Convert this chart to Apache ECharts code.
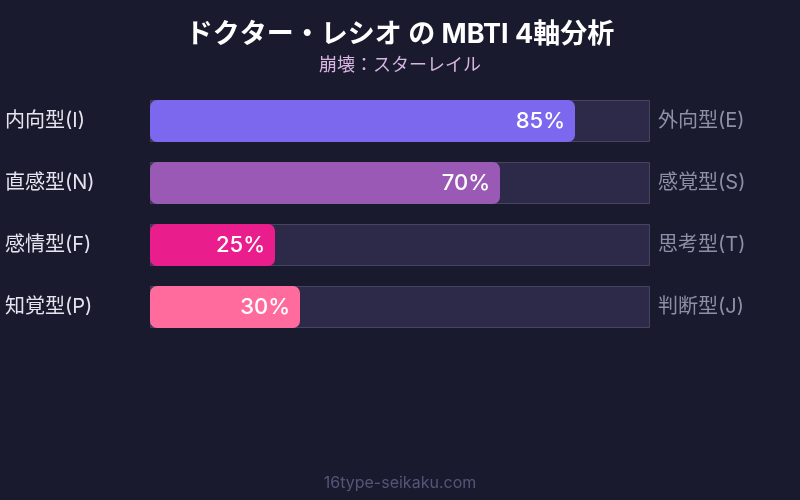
<!DOCTYPE html>
<html>
<head>
    <meta charset="utf-8" />
    <script src="https://cdn.jsdelivr.net/npm/echarts@6/dist/echarts.min.js"></script>
    <style>
        html, body { margin: 0; padding: 0; background: #1a1a2e; }
    </style>
</head>
<body>
    <div id="main" style="width:800px;height:500px;"></div>
    <script type="text/javascript">
        // MBTI 4軸のデータ
        var leftTypes = ['内向型(I)', '直感型(N)', '感情型(F)', '知覚型(P)'];
        var rightTypes = ['外向型(E)', '感覚型(S)', '思考型(T)', '判断型(J)'];
        var scores = [85, 70, 25, 30];
        var barColors = ['#7b68ee', '#9b59b6', '#e91e8c', '#ff6b9d'];
        var trackValues = [100, 100, 100, 100];

        var font = 'Inter, "Noto Sans CJK JP", sans-serif';

        var myChart = echarts.init(document.getElementById('main'));
        var option = {
            backgroundColor: '#1a1a2e',
            animation: false,
            title: [
                {
                    text: 'ドクター・レシオ の MBTI 4軸分析',
                    subtext: '崩壊：スターレイル',
                    left: 'center',
                    top: 16,
                    itemGap: 9,
                    textStyle: { color: '#ffffff', fontSize: 27, fontWeight: 'bold', fontFamily: font },
                    subtextStyle: { color: '#d8b4e2', fontSize: 18, fontFamily: font }
                },
                {
                    text: '16type-seikaku.com',
                    left: 'center',
                    bottom: 4,
                    textStyle: { color: '#55557a', fontSize: 16, fontWeight: 'normal', fontFamily: font }
                }
            ],
            grid: { left: 150, right: 150, top: 90, height: 248 },
            xAxis: {
                type: 'value',
                min: 0,
                max: 100,
                show: false
            },
            yAxis: [
                {
                    type: 'category',
                    data: leftTypes,
                    inverse: true,
                    axisLine: { show: false },
                    axisTick: { show: false },
                    axisLabel: {
                        color: '#e4e4ee',
                        fontSize: 20,
                        fontFamily: font,
                        align: 'left',
                        margin: 145
                    }
                },
                {
                    type: 'category',
                    data: rightTypes,
                    inverse: true,
                    position: 'right',
                    axisLine: { show: false },
                    axisTick: { show: false },
                    axisLabel: {
                        color: '#8e8ea6',
                        fontSize: 20,
                        fontFamily: font,
                        margin: 8
                    }
                }
            ],
            series: [
                {
                    type: 'bar',
                    data: trackValues,
                    barWidth: 42,
                    silent: true,
                    itemStyle: { color: '#2c2a48', borderColor: '#46445f', borderWidth: 1 }
                },
                {
                    type: 'bar',
                    barGap: '-100%',
                    barWidth: 42,
                    data: scores.map(function (v, i) {
                        return { value: v, itemStyle: { color: barColors[i] } };
                    }),
                    itemStyle: { borderRadius: 7 },
                    label: {
                        show: true,
                        position: 'insideRight',
                        distance: 10,
                        formatter: '{c}%',
                        color: '#ffffff',
                        fontSize: 22,
                        fontWeight: 500,
                        fontFamily: font
                    }
                }
            ]
        };
        myChart.setOption(option);
    </script>
</body>
</html>
